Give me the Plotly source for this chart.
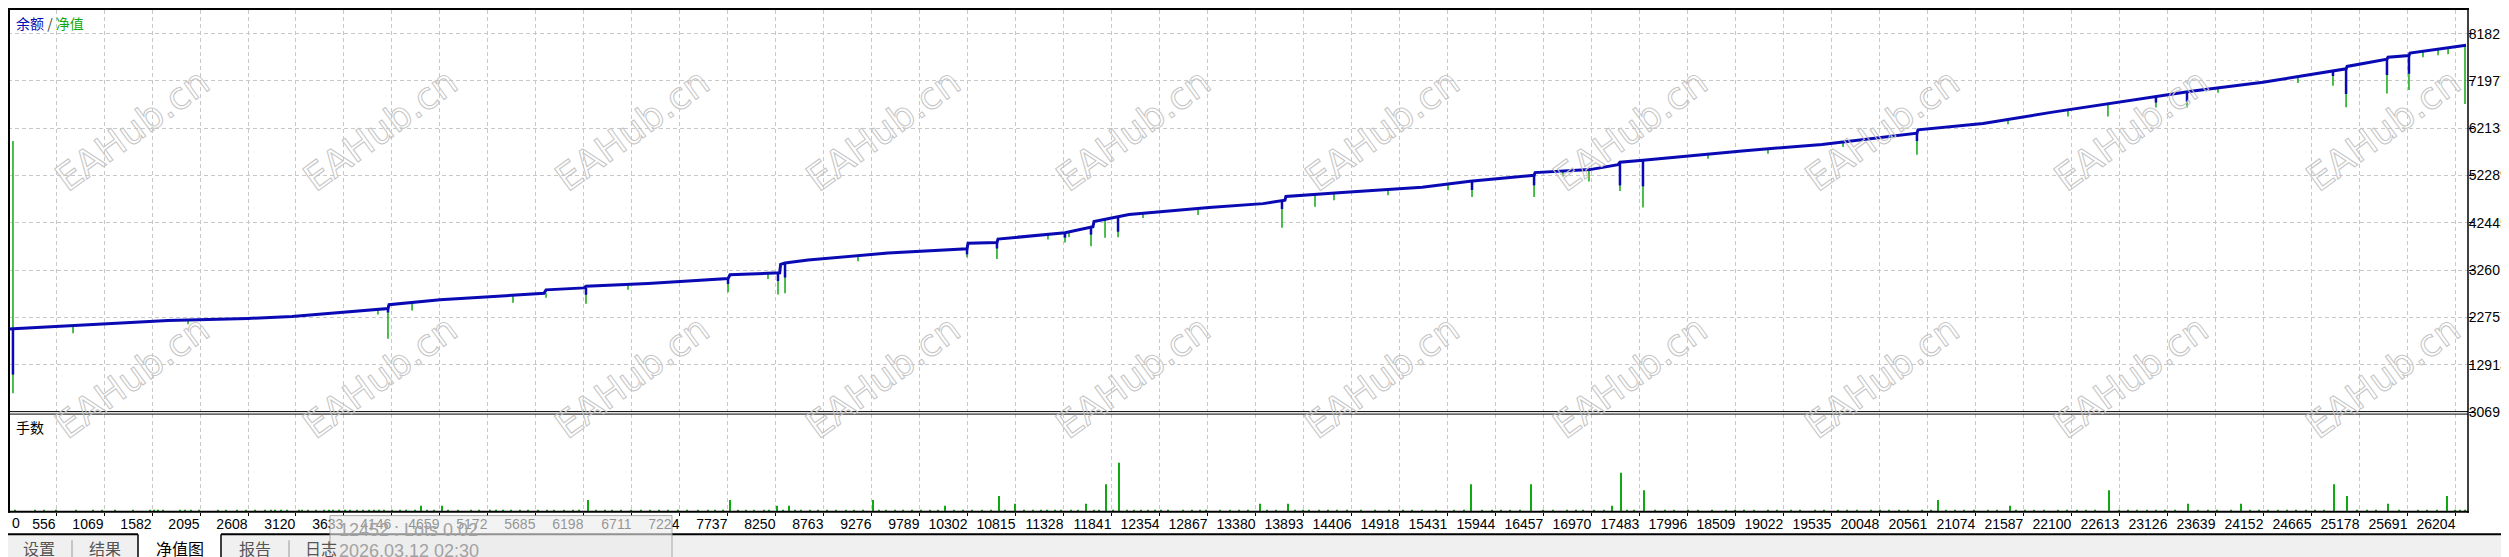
import plotly.graph_objects as go

W, H = 2509, 557

# ---------------- data ----------------
x_tick_labels = [556, 1069, 1582, 2095, 2608, 3120, 3633, 4146, 4659, 5172, 5685, 6198,
                 6711, 7224, 7737, 8250, 8763, 9276, 9789, 10302, 10815, 11328, 11841,
                 12354, 12867, 13380, 13893, 14406, 14918, 15431, 15944, 16457, 16970,
                 17483, 17996, 18509, 19022, 19535, 20048, 20561, 21074, 21587, 22100,
                 22613, 23126, 23639, 24152, 24665, 25178, 25691, 26204]
y_tick_labels = [3069, 12913, 22757, 32601, 42445, 52289, 62133, 71977, 81821]

balance_x = [50, 556, 898, 1753, 2608, 3078, 3463, 4061, 4104, 4115, 4660, 5771, 5793,
             6199, 6220, 6883, 7738, 7759, 8250, 8290, 8300, 8347, 8593, 9448, 10292,
             10303, 10612, 10623, 11339, 11638, 11649, 12023, 12878, 13455, 13690, 13700,
             14300, 15155, 15668, 16352, 16363, 16950, 17249, 17270, 17516, 18574, 19429,
             20444, 20455, 21150, 21877, 22561, 23031, 23373, 24142, 24912, 25030, 25041,
             25467, 25478, 25702, 25713, 26312]
balance_y = [20358, 20912, 21322, 22143, 22553, 22963, 23578, 24501, 24604, 25424, 26449,
             27782, 28500, 28910, 29238, 29813, 30838, 31637, 31987, 32050, 33800, 34100,
             34694, 36149, 37032, 38200, 38344, 39062, 40395, 41625, 42712, 44168, 45624,
             46445, 47150, 47950, 48762, 49849, 51100, 52331, 52905, 53520, 54545, 55057,
             55468, 57416, 58749, 61108, 61806, 63118, 65435, 67486, 68942, 69821, 71711,
             74028, 74500, 74992, 76489, 76899, 77248, 77781, 79422]

# equity excursions away from the balance line (start level -> extreme level)
equity_x = [96, 96, 738, 1967, 3997, 4104, 4361, 5440, 5793, 6220, 6669, 7738, 8165,
            8272, 8347, 9127, 10292, 10612, 11157, 11339, 11382, 11617, 11767, 11906,
            12173, 12761, 13658, 14011, 14214, 14791, 15432, 15689, 16352, 16661, 16939,
            17270, 17516, 18211, 18852, 19654, 20444, 21417, 22058, 22485, 22998, 23330,
            23661, 24516, 24890, 25030, 25467, 25702, 25852, 26013, 26120, 26301]
equity_from = [20358, 20358, 21015, 22245, 24399, 24604, 25834, 27270, 27782, 28910,
               29526, 30838, 31884, 31987, 34037, 35678, 37032, 38344, 40067, 40395,
               40497, 41523, 43198, 43707, 44496, 45317, 47081, 48250, 48639, 49418,
               50444, 51141, 52331, 53110, 53520, 55057, 55468, 56801, 57827, 59365,
               61108, 63979, 66030, 67260, 68840, 69721, 70542, 72797, 73967, 74500,
               76489, 77248, 78130, 78540, 78745, 79401]
equity_to = [59467, 6967, 19477, 21322, 23373, 18307, 24194, 25834, 26860, 25629, 28500,
             27988, 30756, 27557, 27783, 34448, 35268, 34919, 38959, 38344, 39431, 37585,
             39369, 39431, 43471, 44086, 41420, 45788, 47162, 48188, 49213, 47819, 47819,
             52084, 51059, 49049, 45624, 55776, 56801, 58237, 56596, 62954, 64594, 64594,
             66440, 66440, 69516, 71567, 70952, 66501, 69373, 70070, 76899, 77309, 77514,
             67199]

# balance dips
bal_dip_x = [96, 4104, 6220, 7738, 8272, 8347, 10292, 10612, 11339, 11617, 11906, 13658,
             15689, 16352, 17270, 17516, 20444, 22998, 23330, 24890, 25030, 25467, 25702]
bal_dip_from = [20358, 24604, 28910, 30838, 31987, 34037, 37032, 38344, 40395, 41523,
                43707, 47081, 51141, 52331, 55057, 55468, 61108, 68840, 69721, 73967,
                74500, 76489, 77248]
bal_dip_to = [10863, 23783, 27475, 29731, 30346, 31064, 35883, 37114, 39369, 39985, 40600,
              45317, 49275, 50239, 50239, 50034, 59467, 67465, 67670, 73003, 69250, 73208,
              73474]

# lots
lots_big_x = [4454, 4681, 6241, 7759, 8261, 8389, 9287, 10057, 10634, 10805, 11564, 11777,
              11916, 13423, 13722, 15678, 16319, 17185, 17281, 17527, 20669, 21439, 22496,
              23341, 23907, 24901, 25040, 25478, 26108]
lots_big = [0.03, 0.03, 0.06, 0.06, 0.03, 0.03, 0.06, 0.03, 0.08, 0.04, 0.04, 0.14, 0.25,
            0.04, 0.04, 0.14, 0.14, 0.03, 0.20, 0.11, 0.06, 0.03, 0.11, 0.04, 0.04, 0.14,
            0.08, 0.04, 0.08]
lots_small_x = [120, 330, 430, 560, 770, 950, 1050, 1190, 1380, 1560, 1600, 1650, 1700,
                1880, 1930, 2000, 2080, 2290, 2370, 2490, 2590, 2680, 2790, 2850, 2900,
                2960, 3020, 3150, 3190, 3250, 3330, 3420, 3470, 3520, 3580, 3640, 3700,
                3770, 3840, 3900, 3960, 4010, 4060, 4150, 4230, 4300, 4390, 4520, 4600,
                4750, 4850, 4990, 5080, 5200, 5260, 5330, 5420, 5510, 5600, 5710, 5800,
                5880, 5990, 6080, 6150, 6330, 6420, 6500, 6590, 6700, 6810, 6900, 7000,
                7100, 7200, 7300, 7420, 7520, 7600, 7680, 7850, 7930, 8020, 8120, 8180,
                8330, 8450, 8520, 8610, 8700, 8800, 8890, 9000, 9090, 9180, 9350, 9430,
                9520, 9610, 9700, 9800, 9900, 9980, 10150, 10250, 10350, 10450, 10550,
                10700, 10900, 11000, 11080, 11150, 11230, 11300, 11400, 11480, 11650,
                11700, 11850, 12000, 12080, 12150, 12230, 12300, 12370, 12440, 12600,
                12700, 12780, 12850, 13000, 13100, 13200, 13300, 13500, 13600, 13800,
                13880, 13950, 14050, 14150, 14250, 14350, 14500, 14650, 14800, 14950,
                15050, 15150, 15300, 15500, 15600, 15800, 15900, 16000, 16100, 16200,
                16450, 16550, 16700, 16800, 16880, 16990, 17100, 17350, 17420, 17650,
                17750, 17850, 18000, 18100, 18250, 18400, 18500, 18600, 18700, 18850,
                18950, 19100, 19200, 19350, 19450, 19600, 19700, 19800, 19950, 20050,
                20150, 20250, 20350, 20500, 20600, 20750, 20850, 20950, 21050, 21200,
                21300, 21500, 21600, 21700, 21800, 21950, 22050, 22150, 22250, 22350,
                22600, 22700, 22800, 22900, 23000, 23100, 23200, 23450, 23550, 23650,
                23800, 24000, 24100, 24200, 24300, 24400, 24500, 24600, 24700, 24800,
                25150, 25250, 25350, 25600, 25800, 25900, 26000, 26200, 26250, 26300]
lots_small = [0.01] * len(lots_small_x)

tabs = ["设置", "结果", "净值图", "报告", "日志"]
tooltip_lines = ["12452 : Lots 0.02", "2026.03.12 02:30"]
watermark = "EAHub.cn"

# ---------------- styling ----------------
BLUE = "#0a0ab4"
GREEN = "#12a812"
GRID = "#c8c8c8"
NUMFONT = "Liberation Sans"
CJK = "Noto Sans CJK SC"


def px(x):
    return x / W


def py(y):
    return 1 - y / H


def segs(xs, a, b):
    sx, sy = [], []
    for xv, y0, y1 in zip(xs, a, b):
        sx += [xv, xv, None]
        sy += [y0, y1, None]
    return sx, sy


fig = go.Figure()

ex, ey = segs(equity_x, equity_from, equity_to)
fig.add_trace(go.Scatter(x=ex, y=ey, mode="lines", line=dict(color=GREEN, width=1.5),
                         xaxis="x", yaxis="y", hoverinfo="skip"))
fig.add_trace(go.Scatter(x=balance_x, y=balance_y, mode="lines",
                         line=dict(color=BLUE, width=3), xaxis="x", yaxis="y",
                         hoverinfo="skip"))
bx, by = segs(bal_dip_x, bal_dip_from, bal_dip_to)
fig.add_trace(go.Scatter(x=bx, y=by, mode="lines", line=dict(color=BLUE, width=2.5),
                         xaxis="x", yaxis="y", hoverinfo="skip"))
fig.add_trace(go.Bar(x=lots_big_x + lots_small_x, y=lots_big + lots_small, width=12,
                     marker=dict(color=GREEN, line=dict(width=0)),
                     xaxis="x2", yaxis="y2", hoverinfo="skip"))

XR = [43, 26333]
XDOM = [0, 2460 / W]
fig.update_layout(
    width=W, height=H, margin=dict(l=0, r=0, t=0, b=0),
    paper_bgcolor="white", plot_bgcolor="white", showlegend=False,
    xaxis=dict(domain=XDOM, range=XR, tickvals=x_tick_labels, showticklabels=False,
               ticks="", showgrid=True, gridcolor=GRID, griddash="4px,3px", gridwidth=1,
               zeroline=False, showline=False, anchor="y"),
    yaxis=dict(domain=[py(410), py(2)], range=[3060, 86743], side="right",
               tickvals=y_tick_labels, ticktext=[str(v) for v in y_tick_labels],
               ticks="outside", ticklen=5, tickcolor="black", tickwidth=1,
               ticklabelstandoff=-8,
               tickfont=dict(family=NUMFONT, size=14, color="black"),
               showgrid=True, gridcolor=GRID, griddash="4px,3px", gridwidth=1,
               zeroline=False, showline=False, anchor="x"),
    xaxis2=dict(domain=XDOM, range=XR, tickvals=x_tick_labels,
                ticktext=[str(v) for v in x_tick_labels], tickangle=0,
                ticklabelposition="outside left", ticks="outside", ticklen=3,
                tickcolor="black", tickfont=dict(family=NUMFONT, size=14, color="black"),
                showgrid=True, gridcolor=GRID, griddash="4px,3px", gridwidth=1,
                zeroline=False, showline=False, anchor="y2"),
    yaxis2=dict(domain=[py(511), py(412)], range=[0, 0.5], showgrid=False,
                showticklabels=False, ticks="", zeroline=False, showline=False,
                anchor="x2"),
)

shapes = []


def hline(y, x0, x1, w=1, color="black"):
    shapes.append(dict(type="line", xref="paper", yref="paper", x0=px(x0), x1=px(x1),
                       y0=py(y), y1=py(y), line=dict(color=color, width=w)))


def vline(x, y0, y1, w=1, color="black"):
    shapes.append(dict(type="line", xref="paper", yref="paper", x0=px(x), x1=px(x),
                       y0=py(y0), y1=py(y1), line=dict(color=color, width=w)))


def rect(x0, y0, x1, y1, fill, line=None):
    shapes.append(dict(type="rect", xref="paper", yref="paper", x0=px(x0), x1=px(x1),
                       y0=py(y1), y1=py(y0), fillcolor=fill,
                       line=dict(width=1 if line else 0, color=line or fill)))


hline(1, 0, 2461, 2)
vline(1, 0, 512, 2)
vline(2460, 0, 512, 1.5)
hline(409.5, 0, 2460, 1)
hline(412, 0, 2460, 1)
hline(511, 0, 2461, 2)
# tab strip
rect(0, 534, W, H, "#f0f0f0")
rect(130, 533, 213, H, "white")
hline(534, 0, 130, 2)
hline(534, 213, W, 2)
vline(130, 534, H, 1.5)
vline(213, 534, H, 1.5)
vline(64, 540, H, 1, "#999999")
vline(281, 540, H, 1, "#999999")
# tooltip overlay
rect(322, 515, 664, H + 2, "rgba(236,236,236,0.62)", "rgba(150,150,150,0.8)")

annotations = []
# watermarks (outlined text)
wm_x = [124, 372, 624, 875, 1125, 1374, 1622, 1874, 2123, 2375]
wm_y = [124, 375]
for cy in wm_y:
    for cx in wm_x:
        annotations.append(dict(
            text='<span style="fill:none;stroke:#c4c4c4;stroke-width:1px">'
                 + watermark + '</span>',
            x=px(cx), y=py(cy), xref="paper", yref="paper", showarrow=False,
            textangle=-36, xanchor="center", yanchor="middle",
            font=dict(family="DejaVu Sans", size=37, color="#c4c4c4")))
annotations.append(dict(
    text='<span style="color:#0a0ab4">余额</span><span style="color:#444"> / </span>'
         '<span style="color:#12a812">净值</span>',
    x=px(6), y=py(15), xref="paper", yref="paper", showarrow=False, xanchor="left",
    yanchor="middle", font=dict(family=CJK, size=14)))
annotations.append(dict(text="手数", x=px(6), y=py(425), xref="paper", yref="paper",
                        showarrow=False, xanchor="left", yanchor="middle",
                        font=dict(family=CJK, size=14, color="black")))
annotations.append(dict(text="0", x=px(2), y=py(523), xref="paper", yref="paper",
                        showarrow=False, xanchor="left", yanchor="middle",
                        font=dict(family=NUMFONT, size=14, color="black")))
tab_cx = [31, 97, 172, 247, 313]
for t, cx in zip(tabs, tab_cx):
    annotations.append(dict(text=t, x=px(cx), y=py(548), xref="paper", yref="paper",
                            showarrow=False, xanchor="center", yanchor="middle",
                            font=dict(family=CJK, size=16,
                                      color="black" if t == "净值图" else "#555555")))
for line_txt, ty in zip(tooltip_lines, [530, 551]):
    annotations.append(dict(text=line_txt, x=px(329), y=py(ty), xref="paper",
                            yref="paper", showarrow=False, xanchor="left",
                            yanchor="middle",
                            font=dict(family=NUMFONT, size=18, color="#a2a2a2")))

fig.update_layout(shapes=shapes, annotations=annotations)
fig.write_html("out.html", config={"displayModeBar": False})
